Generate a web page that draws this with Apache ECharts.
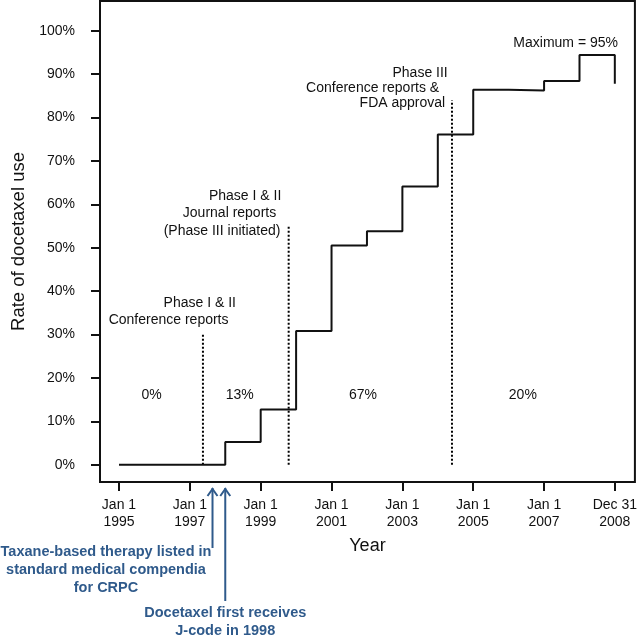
<!DOCTYPE html>
<html>
<head>
<meta charset="utf-8">
<script src="https://cdn.jsdelivr.net/npm/echarts@6/dist/echarts.min.js"></script>
<style>html,body{margin:0;padding:0;background:#fff;}#c{width:640px;height:640px;}</style>
</head>
<body>
<div id="c"></div>
<script>
// ---- data ----
const stepYears = [1995, 1998, 1999, 2000, 2001, 2002, 2003, 2004, 2005, 2006, 2007, 2008, 2008.997];
const stepRates = [0, 5.2, 12.7, 30.8, 50.5, 53.8, 64.1, 76.1, 86.4, 86.2, 88.4, 94.4, 87.8];

const eventYears = [1997.37, 1999.79, 2004.40];
const eventTops = [30, 55, 84];

const xTickValues = [1995, 1997, 1999, 2001, 2003, 2005, 2007, 2008.997];
const xTickLabels = ['Jan 1\n1995', 'Jan 1\n1997', 'Jan 1\n1999', 'Jan 1\n2001', 'Jan 1\n2003', 'Jan 1\n2005', 'Jan 1\n2007', 'Dec 31\n2008'];
const yTickValues = [0, 10, 20, 30, 40, 50, 60, 70, 80, 90, 100];

const noteTexts = ['Phase I & II', 'Conference reports',
  'Phase I & II', 'Journal reports', '(Phase III initiated)',
  'Phase III', 'Conference reports &', 'FDA approval',
  'Maximum = 95%', '0%', '13%', '67%', '20%'];
const noteYears = [1997.28, 1996.40, 1998.56, 1998.12, 1997.91, 2003.50, 2002.16, 2003.00, 2007.61, 1995.92, 1998.41, 2001.89, 2006.40];
const noteRates = [37.3, 33.4, 61.9, 57.9, 53.9, 90.2, 86.7, 83.4, 97.1, 16, 16, 16, 16];

const arrowYears = [1997.64, 1998.0];
const arrowTexts = ['Taxane-based therapy listed in\nstandard medical compendia\nfor CRPC', 'Docetaxel first receives\nJ-code in 1998'];

// ---- chart ----
const FONT = "'Liberation Sans', Arial, sans-serif";
const INK = '#111';
const BLUE = '#2f5a8b';
const chart = echarts.init(document.getElementById('c'), null, {renderer: 'canvas'});

const series = [{
  type: 'line',
  step: 'end',
  symbol: 'none',
  data: stepYears.map((y, i) => [y, stepRates[i]]),
  lineStyle: {color: '#111', width: 2},
  z: 5
}];
eventYears.forEach((y, i) => {
  series.push({
    type: 'line', symbol: 'none',
    data: [[y, 0], [y, eventTops[i]]],
    lineStyle: {color: '#000', width: 2, type: [2, 2]},
    z: 4
  });
});
series.push({
  type: 'scatter',
  symbolSize: 0,
  itemStyle: {opacity: 1},
  data: noteTexts.map((t, i) => ({name: t, value: [noteYears[i], noteRates[i]]})),
  label: {show: true, position: 'inside', formatter: p => p.name, color: INK, opacity: 1, fontSize: 14, fontFamily: FONT},
  silent: true, z: 6
});

chart.setOption({
  animation: false,
  backgroundColor: '#fff',
  grid: {left: 100, right: 5, top: 1, bottom: 158, show: true, borderColor: '#111', borderWidth: 2, containLabel: false},
  xAxis: {
    type: 'value', min: 1994.464, max: 2009.564,
    splitLine: {show: false}, axisLine: {show: false, onZero: false},
    axisTick: {show: true, length: 9, lineStyle: {color: '#111', width: 2}, customValues: xTickValues},
    axisLabel: {customValues: xTickValues, margin: 15, color: INK, fontSize: 14, fontFamily: FONT, lineHeight: 17,
      formatter: v => { const k = xTickValues.findIndex(t => Math.abs(t - v) < 1e-6); return k >= 0 ? xTickLabels[k] : ''; }},
    name: 'Year', nameLocation: 'middle', nameGap: 55,
    nameTextStyle: {color: INK, fontSize: 18, fontFamily: FONT}
  },
  yAxis: {
    type: 'value', min: -4, max: 106.85,
    splitLine: {show: false}, axisLine: {show: false, onZero: false},
    axisTick: {show: true, length: 9, lineStyle: {color: '#111', width: 2}, customValues: yTickValues},
    axisLabel: {customValues: yTickValues, margin: 25, color: INK, fontSize: 14, fontFamily: FONT, formatter: v => Math.round(v) + '%'},
    name: 'Rate of docetaxel use', nameLocation: 'middle', nameGap: 67,
    nameTextStyle: {color: INK, fontSize: 18.5, fontFamily: FONT}
  },
  series: series
});

// arrows + blue notes below the axis
const gridBottom = 640 - 158;
const arrowBottoms = [548, 601];
const textTops = [543, 604];
const textCenters = [106, null];
const graphics = [];
arrowYears.forEach((yr, i) => {
  const x = chart.convertToPixel({xAxisIndex: 0}, yr);
  const tip = gridBottom + 6;
  graphics.push({type: 'polyline', shape: {points: [[x, arrowBottoms[i]], [x, tip]]}, style: {stroke: BLUE, lineWidth: 2, fill: null}, silent: true});
  graphics.push({type: 'polyline', shape: {points: [[x - 5, tip + 8], [x, tip + 1], [x + 5, tip + 8]]}, style: {stroke: BLUE, lineWidth: 2, fill: null}, silent: true});
  graphics.push({type: 'text', x: textCenters[i] == null ? x : textCenters[i], y: textTops[i],
    style: {text: arrowTexts[i], fill: BLUE, font: 'bold 14.5px ' + FONT, align: 'center', verticalAlign: 'top', lineHeight: 18}, silent: true});
});
chart.setOption({graphic: graphics});
</script>
</body>
</html>
